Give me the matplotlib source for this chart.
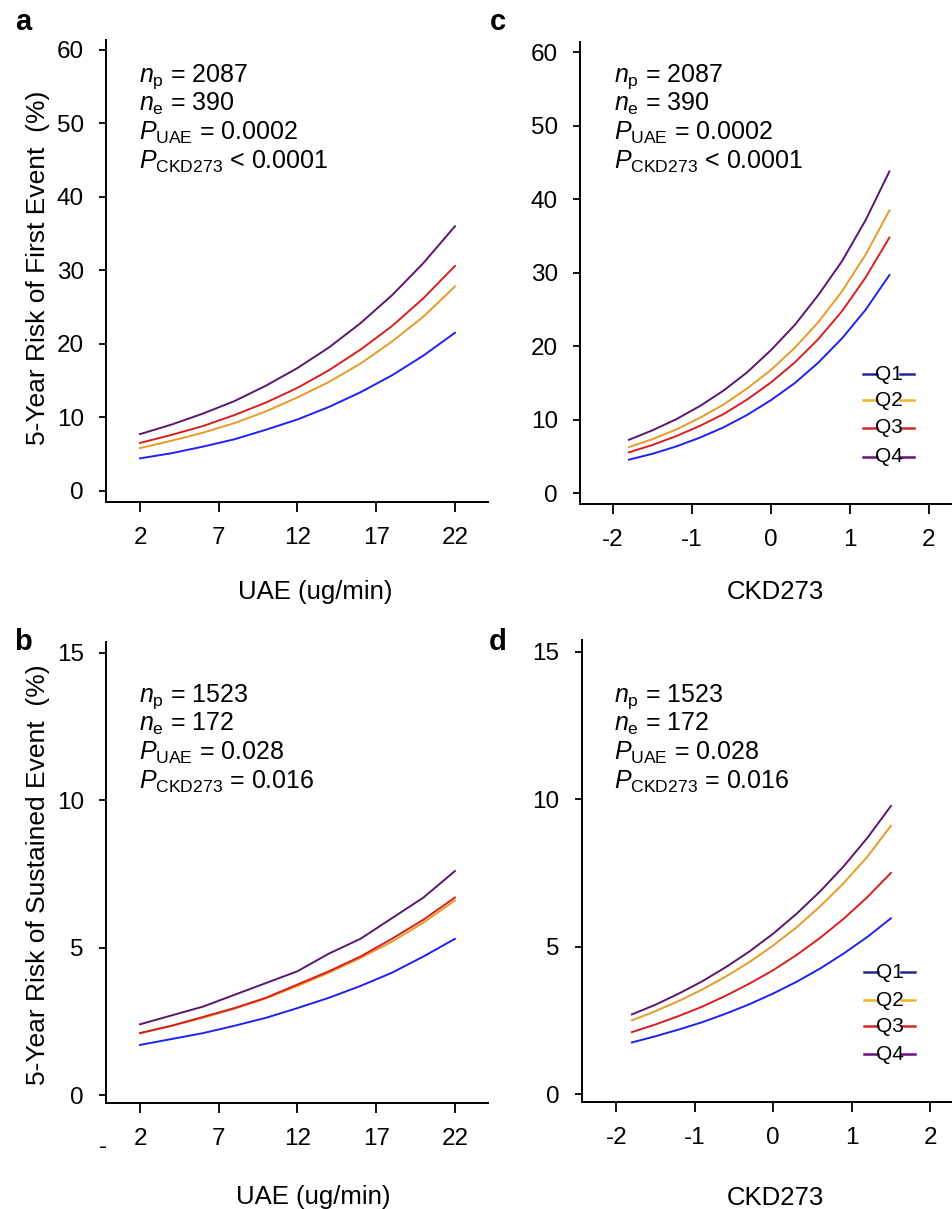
import numpy as np
import matplotlib
matplotlib.use("Agg")
from matplotlib import pyplot as plt
from matplotlib.lines import Line2D

plt.rcParams['font.family'] = ['Liberation Sans', 'DejaVu Sans']
plt.rcParams['mathtext.fontset'] = 'custom'
plt.rcParams['mathtext.rm'] = 'Liberation Sans'
plt.rcParams['mathtext.it'] = 'Liberation Sans:italic'
plt.rcParams['axes.unicode_minus'] = False

# ---- data ----
uae = [2, 4, 6, 8, 10, 12, 14, 16, 18, 20, 22]
first_uae_q1 = [4.4, 5.1, 6.0, 7.0, 8.3, 9.7, 11.4, 13.4, 15.7, 18.4, 21.5]
first_uae_q2 = [5.8, 6.8, 7.9, 9.2, 10.8, 12.7, 14.8, 17.3, 20.3, 23.7, 27.8]
first_uae_q3 = [6.5, 7.6, 8.8, 10.3, 12.0, 14.0, 16.4, 19.2, 22.4, 26.2, 30.6]
first_uae_q4 = [7.7, 9.0, 10.5, 12.2, 14.3, 16.7, 19.5, 22.8, 26.6, 31.0, 36.0]

sust_uae_q1 = [1.7, 1.9, 2.1, 2.35, 2.62, 2.95, 3.3, 3.7, 4.15, 4.7, 5.3]
sust_uae_q2 = [2.1, 2.35, 2.62, 2.93, 3.28, 3.7, 4.15, 4.65, 5.2, 5.85, 6.6]
sust_uae_q3 = [2.1, 2.35, 2.65, 2.95, 3.3, 3.75, 4.2, 4.7, 5.3, 5.95, 6.7]
sust_uae_q4 = [2.4, 2.7, 3.0, 3.4, 3.8, 4.2, 4.8, 5.3, 6.0, 6.7, 7.6]

ckd = [-1.8, -1.5, -1.2, -0.9, -0.6, -0.3, 0.0, 0.3, 0.6, 0.9, 1.2, 1.5]
first_ckd_q1 = [4.6, 5.4, 6.4, 7.6, 9.0, 10.7, 12.7, 15.0, 17.8, 21.1, 25.0, 29.7]
first_ckd_q2 = [6.3, 7.4, 8.7, 10.3, 12.1, 14.3, 16.8, 19.8, 23.3, 27.5, 32.5, 38.5]
first_ckd_q3 = [5.6, 6.6, 7.8, 9.2, 10.8, 12.8, 15.1, 17.8, 21.0, 24.8, 29.4, 34.8]
first_ckd_q4 = [7.3, 8.6, 10.1, 11.9, 14.0, 16.5, 19.5, 22.9, 27.0, 31.6, 37.2, 43.8]

sust_ckd_q1 = [1.75, 1.96, 2.19, 2.44, 2.73, 3.05, 3.41, 3.81, 4.26, 4.77, 5.33, 5.96]
sust_ckd_q2 = [2.5, 2.81, 3.16, 3.55, 3.99, 4.48, 5.04, 5.66, 6.37, 7.16, 8.05, 9.1]
sust_ckd_q3 = [2.1, 2.36, 2.65, 2.97, 3.34, 3.75, 4.2, 4.72, 5.3, 5.95, 6.68, 7.5]
sust_ckd_q4 = [2.7, 3.03, 3.41, 3.83, 4.31, 4.84, 5.44, 6.12, 6.88, 7.73, 8.69, 9.77]

quartiles = ['Q1', 'Q2', 'Q3', 'Q4']
line_cols = ['#2020f5', '#e89a28', '#d91e1e', '#5a1670']
leg_cols = ['#25259a', '#f0b420', '#d42828', '#6a1080']

stats_a = ['2087', '390', '= 0.0002', '< 0.0001']
stats_b = ['1523', '172', '= 0.028', '= 0.016']

W, H = 953, 1209
def fx(px):
    return px / W
def fy(py):
    return 1 - py / H

fig = plt.figure(figsize=(9.53, 12.09), dpi=100)

def make_ax(l, t, r, b):
    ax = fig.add_axes([fx(l), fy(b), fx(r) - fx(l), (b - t) / H])
    for s in ['top', 'right']:
        ax.spines[s].set_visible(False)
    for s in ['left', 'bottom']:
        ax.spines[s].set_linewidth(1.4)
    ax.tick_params(axis='y', length=5, width=1.3, pad=11, labelsize=17.5)
    ax.tick_params(axis='x', length=7, width=1.3, pad=11, labelsize=17.5)
    return ax

ax_a = make_ax(106, 40, 488, 502)
ax_c = make_ax(580, 42, 962, 504)
ax_b = make_ax(106, 641.7, 488, 1102.7)
ax_d = make_ax(581.7, 640, 964.7, 1101.7)

panels = [
    (ax_a, uae, [first_uae_q1, first_uae_q2, first_uae_q3, first_uae_q4]),
    (ax_c, ckd, [first_ckd_q1, first_ckd_q2, first_ckd_q3, first_ckd_q4]),
    (ax_b, uae, [sust_uae_q1, sust_uae_q2, sust_uae_q3, sust_uae_q4]),
    (ax_d, ckd, [sust_ckd_q1, sust_ckd_q2, sust_ckd_q3, sust_ckd_q4]),
]
for ax, xs, ys in panels:
    for y, c in zip(ys, line_cols):
        ax.plot(xs, y, color=c, lw=1.4)

ax_a.set_xlim(-0.16, 24.1); ax_a.set_ylim(-1.54, 61.36)
ax_c.set_xlim(-2.42, 2.42); ax_c.set_ylim(-1.43, 61.4)
ax_b.set_xlim(-0.16, 24.1); ax_b.set_ylim(-0.26, 15.38)
ax_d.set_xlim(-2.44, 2.44); ax_d.set_ylim(-0.26, 15.4)

for ax in [ax_a, ax_b]:
    ax.set_xticks([2, 7, 12, 17, 22])
for ax in [ax_c, ax_d]:
    ax.set_xticks([-2, -1, 0, 1, 2])
for ax in [ax_a, ax_c]:
    ax.set_yticks([0, 10, 20, 30, 40, 50, 60])
for ax in [ax_b, ax_d]:
    ax.set_yticks([0, 5, 10, 15])

# axis titles
fs_lab = 18.5
fig.text(fx(315), fy(592), 'UAE (ug/min)', ha='center', va='center', fontsize=fs_lab)
fig.text(fx(775), fy(592), 'CKD273', ha='center', va='center', fontsize=fs_lab)
fig.text(fx(313), fy(1197), 'UAE (ug/min)', ha='center', va='center', fontsize=fs_lab)
fig.text(fx(775), fy(1198), 'CKD273', ha='center', va='center', fontsize=fs_lab)
fig.text(fx(38), fy(268), '5-Year Risk of First Event  (%)', rotation=90,
         ha='center', va='center', fontsize=19)
fig.text(fx(38), fy(875), '5-Year Risk of Sustained Event  (%)', rotation=90,
         ha='center', va='center', fontsize=19)
fig.text(fx(103), fy(1147), '-', ha='center', va='center', fontsize=17.5)

# panel letters
for lab, px, py in [('a', 23, 22), ('c', 498, 22), ('b', 23, 642), ('d', 498, 642)]:
    fig.text(fx(px), fy(py), lab, ha='center', va='center', fontsize=21, fontweight='bold')

# stats text
def stats(x0, y0, vals):
    labs = [r'$\mathit{n}_{\mathrm{p}}$ = ' + vals[0],
            r'$\mathit{n}_{\mathrm{e}}$ = ' + vals[1],
            r'$\mathit{P}_{\mathrm{UAE}}$ ' + vals[2],
            r'$\mathit{P}_{\mathrm{CKD273}}$ ' + vals[3]]
    for i, s in enumerate(labs):
        fig.text(fx(x0), fy(y0 + i * 29), s, ha='left', va='baseline', fontsize=18)

stats(139, 82, stats_a)
stats(614, 82, stats_a)
stats(139, 702, stats_b)
stats(614, 702, stats_b)

# legends: line - label - line
def q_legend(xc, ys):
    for q, c, y in zip(quartiles, leg_cols, ys):
        fig.text(fx(xc), fy(y), q, ha='center', va='center', fontsize=15)
        fig.add_artist(Line2D([fx(xc - 26), fx(xc - 12)], [fy(y), fy(y)], color=c, lw=1.8))
        fig.add_artist(Line2D([fx(xc + 11), fx(xc + 25)], [fy(y), fy(y)], color=c, lw=1.8))

q_legend(889, [374, 400, 427.5, 456.5])
q_legend(890, [972, 1000, 1026, 1054])

fig.savefig('out.png', dpi=100)
